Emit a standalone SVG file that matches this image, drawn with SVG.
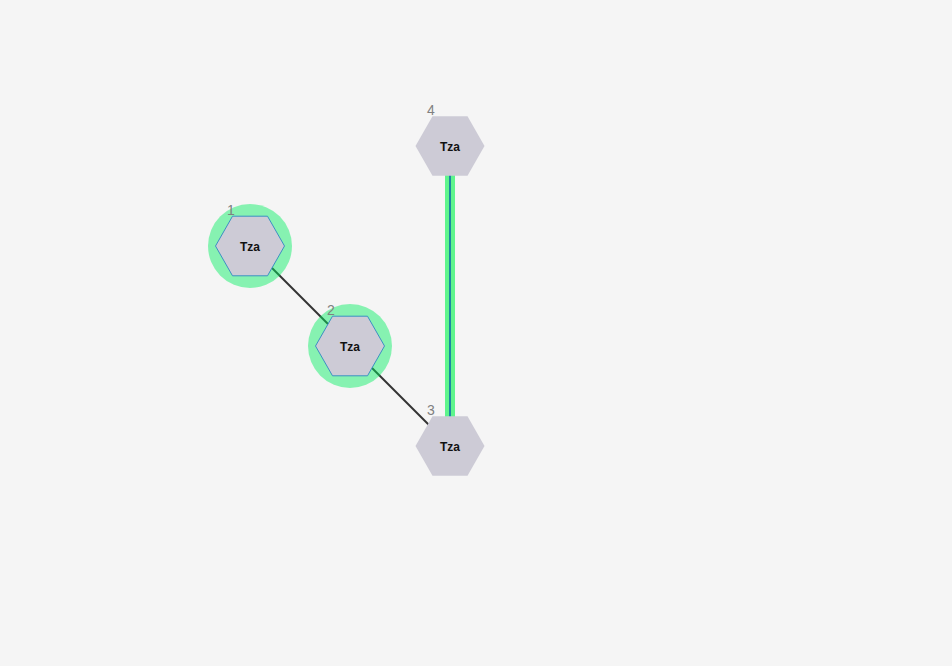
<svg xmlns="http://www.w3.org/2000/svg" width="952" height="666" viewBox="0 0 952 666">
<defs>
<style>
.hex{fill:#cdcbd6;}
.sel{stroke:#3d8fc4;stroke-width:1;}
.halo{fill:#00f060;fill-opacity:0.45;}
.t{font-family:"Liberation Sans",Arial,sans-serif;font-size:12px;font-weight:bold;fill:#111;text-anchor:middle;}
.n{font-family:"Liberation Sans",Arial,sans-serif;font-size:14px;fill:#808080;text-anchor:middle;}
.e{stroke:#333;stroke-width:2;fill:none;}
</style>
<polygon id="hx" points="-34.5,0 -17.5,-29.8 17.5,-29.8 34.5,0 17.5,29.8 -17.5,29.8"/>
</defs>
<rect width="952" height="666" fill="#f5f5f5"/>
<g id="edges">
<line class="e" x1="250" y1="246" x2="350" y2="346"/>
<line class="e" x1="350" y1="346" x2="450" y2="446"/>
<line x1="450" y1="146" x2="450" y2="446" stroke="#5ef58c" stroke-width="10"/>
<line x1="450" y1="146" x2="450" y2="446" stroke="#1d86a2" stroke-width="2"/>
</g>
<g id="node1">
<circle class="halo" cx="250" cy="246" r="42"/>
<use href="#hx" x="250" y="246" class="hex sel"/>
<text class="t" x="250" y="250.5">Tza</text>
<text class="n" x="231" y="215">1</text>
</g>
<g id="node2">
<circle class="halo" cx="350" cy="346" r="42"/>
<use href="#hx" x="350" y="346" class="hex sel"/>
<text class="t" x="350" y="350.5">Tza</text>
<text class="n" x="331" y="315">2</text>
</g>
<g id="node3">
<use href="#hx" x="450" y="446" class="hex"/>
<text class="t" x="450" y="450.5">Tza</text>
<text class="n" x="431" y="415">3</text>
</g>
<g id="node4">
<use href="#hx" x="450" y="146" class="hex"/>
<text class="t" x="450" y="150.5">Tza</text>
<text class="n" x="431" y="115">4</text>
</g>
</svg>
